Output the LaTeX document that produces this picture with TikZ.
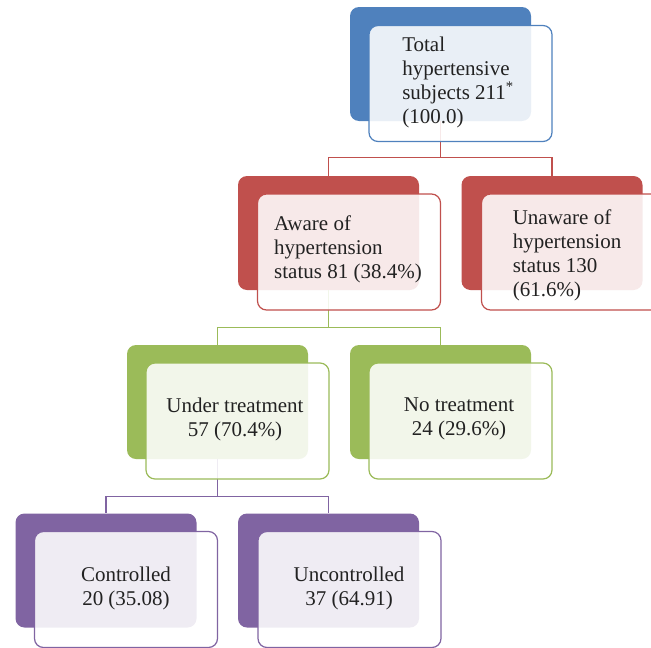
\documentclass[tikz,border=0pt]{standalone}
\usepackage{fontspec}
\setmainfont{Liberation Serif}
\usepackage{xcolor}
\definecolor{cblue}{HTML}{4F81BD}
\definecolor{cred}{HTML}{C0504D}
\definecolor{cgreen}{HTML}{9BBB59}
\definecolor{cpurple}{HTML}{8064A2}
\definecolor{ctext}{HTML}{222222}
\begin{document}
\begin{tikzpicture}[x=1pt,y=-1pt,
  backbox/.style={rectangle,rounded corners=9pt,minimum width=181pt,minimum height=114pt,inner sep=0pt,fill=#1,draw=none},
  frontbox/.style={rectangle,rounded corners=9pt,minimum width=183pt,minimum height=116pt,inner sep=0pt,draw=#1,line width=1.2pt,fill=white,fill opacity=0.88,text opacity=1},
  lbl/.style={text=ctext,font=\fontsize{21}{24}\selectfont,inner sep=0pt},
  conn/.style={draw=#1,line width=1.2pt}]
\useasboundingbox (0,0) rectangle (651,648);
\clip (0,0) rectangle (651,648);
% back boxes
\node[backbox=cblue] (b1) at (440.5,64) {};
\node[backbox=cred] (b2a) at (328.5,233) {};
\node[backbox=cred] (b2b) at (552,233) {};
\node[backbox=cgreen] (b3a) at (217.5,402) {};
\node[backbox=cgreen] (b3b) at (440.5,402) {};
\node[backbox=cpurple] (b4a) at (106,570.5) {};
\node[backbox=cpurple] (b4b) at (328.5,570.5) {};
% connectors
\draw[conn=cred] (b1.south) -- ++(0,36) coordinate (h1) -| (b2a.north);
\draw[conn=cred] (h1) -| (b2b.north);
\draw[conn=cgreen] (b2a.south) -- ++(0,37) coordinate (h2) -| (b3a.north);
\draw[conn=cgreen] (h2) -| (b3b.north);
\draw[conn=cpurple] (b3a.south) -- ++(0,37) coordinate (h3) -| (b4a.north);
\draw[conn=cpurple] (h3) -| (b4b.north);
% front boxes
\node[frontbox=cblue] (f1) at (460.5,83.5) {};
\node[frontbox=cred] (f2a) at (349,252) {};
\node[frontbox=cred] (f2b) at (573,252) {};
\node[frontbox=cgreen] (f3a) at (237.5,421) {};
\node[frontbox=cgreen] (f3b) at (460.5,421) {};
\node[frontbox=cpurple] (f4a) at (126,589.5) {};
\node[frontbox=cpurple] (f4b) at (349.5,589.5) {};
% labels
\node[lbl,align=left] (t1) at (458,82) {Total\\hypertensive\\subjects 211\textsuperscript{*}\\(100.0)};
\node[lbl,align=left] (t2a) at (348,249) {Aware of\\hypertension\\status 81 (38.4\%)};
\node[lbl,align=left] (t2b) at (567,255) {Unaware of\\hypertension\\status 130\\(61.6\%)};
\node[lbl,align=center] (t3a) at (235,419) {Under treatment\\57 (70.4\%)};
\node[lbl,align=center] (t3b) at (459,419) {No treatment\\24 (29.6\%)};
\node[lbl,align=center] (t4a) at (126,588) {Controlled\\20 (35.08)};
\node[lbl,align=center] (t4b) at (349,588) {Uncontrolled\\37 (64.91)};
\end{tikzpicture}
\end{document}
